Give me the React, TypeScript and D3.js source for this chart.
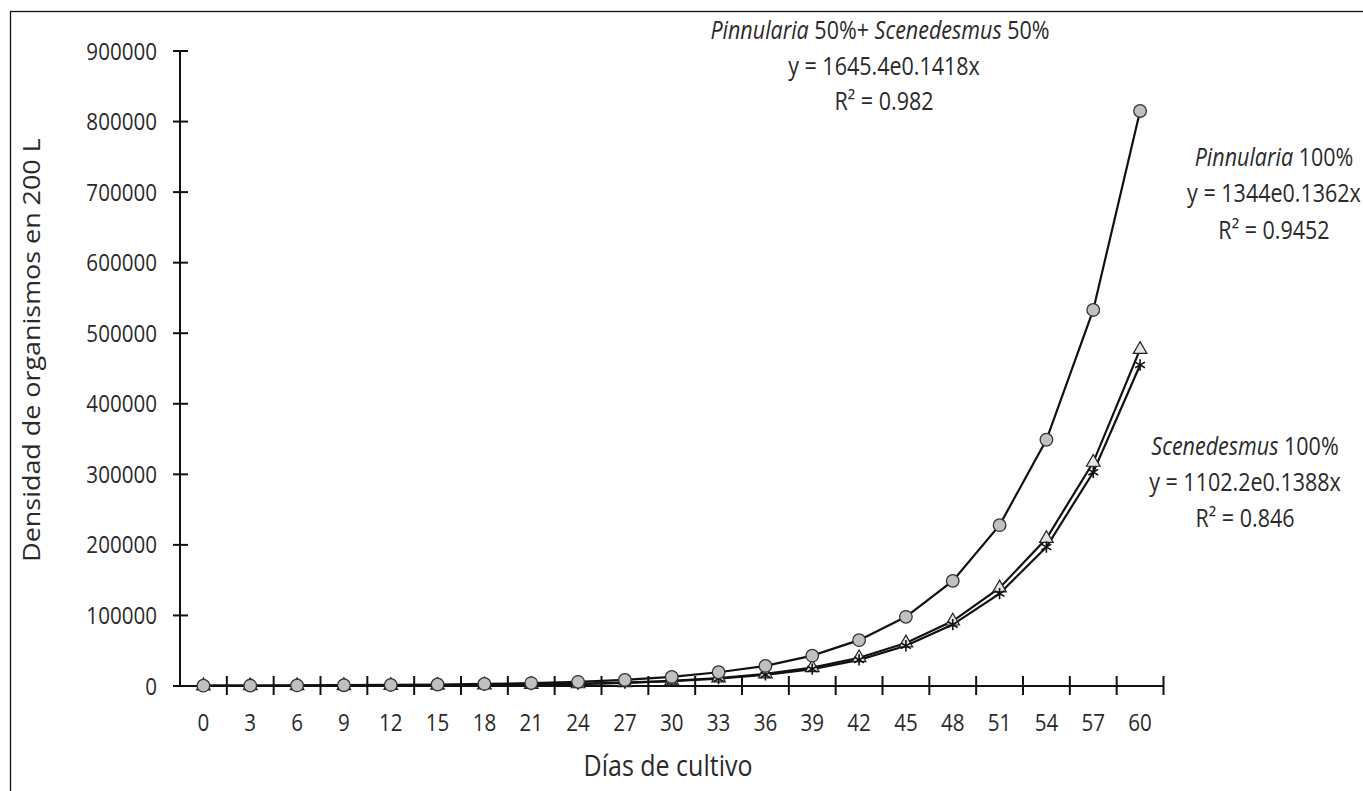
import React, { useEffect, useRef } from 'react';
import * as d3 from 'd3';

// Días de cultivo (eje x)
const days = [0, 3, 6, 9, 12, 15, 18, 21, 24, 27, 30, 33, 36, 39, 42, 45, 48, 51, 54, 57, 60];

// Pinnularia 50% + Scenedesmus 50% (círculos)
const mezcla = [500, 650, 850, 1100, 1500, 2100, 2900, 4100, 5900, 8600, 12800, 19500, 28500, 43000, 65000, 98000, 149000, 228000, 349000, 533000, 815000];
// Pinnularia 100% (triángulos)
const pinnularia = [200, 280, 380, 520, 720, 1000, 1450, 2100, 3100, 4700, 7300, 11300, 17200, 26000, 40000, 61000, 92000, 139000, 209000, 317000, 477000];
// Scenedesmus 100% (asteriscos)
const scenedesmus = [180, 250, 340, 470, 650, 900, 1300, 1900, 2800, 4300, 6700, 10400, 15800, 24000, 37000, 57000, 87000, 131000, 197000, 303000, 455000];

const yTicks = [0, 100000, 200000, 300000, 400000, 500000, 600000, 700000, 800000, 900000];

const W = 1363;
const H = 791;

const App = () => {
  const svgRef = useRef(null);

  useEffect(() => {
    if (!svgRef.current) return;
    const svg = d3.select(svgRef.current);
    svg.selectAll('*').remove();

    const font = '"Open Sans", sans-serif';
    const SY = 1.15; // el original está algo estirado en vertical

    const x = d3.scaleBand().domain(days.map(String)).range([180, 1163.5]);
    const y = d3.scaleLinear().domain([0, 900000]).range([686, 51]);
    const cx = (d) => x(String(d)) + x.bandwidth() / 2;

    svg.append('rect')
      .attr('width', W).attr('height', H).attr('fill', '#fff');

    // marco exterior (solo se ven los lados izquierdo y superior)
    svg.append('rect')
      .attr('x', 10.5).attr('y', 11.5)
      .attr('width', 1500).attr('height', 1000)
      .attr('fill', 'none').attr('stroke', '#111').attr('stroke-width', 1.3);

    const text = (px, py, anchor, size, parts, rotate = false) => {
      const t = svg.append('text')
        .attr('transform', rotate
          ? `translate(${px},${py}) rotate(-90) scale(${SY},1)`
          : `translate(${px},${py}) scale(1,${SY})`)
        .attr('text-anchor', anchor)
        .attr('font-family', font)
        .attr('font-size', size)
        .attr('fill', '#2a2a2a')
        .attr('dy', '0.36em');
      parts.forEach((p) => {
        t.append('tspan')
          .attr('font-style', p.i ? 'italic' : 'normal')
          .text(p.t);
      });
    };

    // ejes
    const axis = svg.append('g').attr('stroke', '#111').attr('stroke-width', 2);
    axis.append('line').attr('x1', 180).attr('x2', 180).attr('y1', y(900000)).attr('y2', y(0));
    axis.append('line').attr('x1', 180).attr('x2', x.range()[1]).attr('y1', y(0)).attr('y2', y(0));

    axis.selectAll('.yt')
      .data(yTicks)
      .join('line')
      .attr('class', 'yt')
      .attr('x1', 173).attr('x2', 188)
      .attr('y1', (d) => y(d)).attr('y2', (d) => y(d));

    const bounds = days.slice(1).map((d) => x(String(d))).concat([x.range()[1]]);
    axis.selectAll('.xt')
      .data(bounds)
      .join('line')
      .attr('class', 'xt')
      .attr('x1', (d) => d).attr('x2', (d) => d)
      .attr('y1', y(0) - 10).attr('y2', y(0) + 9);

    yTicks.forEach((v) => text(157, y(v), 'end', 20.6, [{ t: String(v) }]));
    days.forEach((d) => text(cx(d), 722, 'middle', 20.6, [{ t: String(d) }]));

    text(668, 766, 'middle', 25, [{ t: 'Días de cultivo' }]);
    text(32, 350, 'middle', 23.4, [{ t: 'Densidad de organismos en 200 L' }], true);

    // series
    const line = d3.line().x((d, i) => cx(days[i])).y((d) => y(d));
    [mezcla, pinnularia, scenedesmus].forEach((s) => {
      svg.append('path')
        .attr('d', line(s))
        .attr('fill', 'none')
        .attr('stroke', '#111')
        .attr('stroke-width', 2.2);
    });

    svg.selectAll('.tri')
      .data(pinnularia)
      .join('path')
      .attr('class', 'tri')
      .attr('transform', (d, i) => `translate(${cx(days[i])},${y(d)})`)
      .attr('d', d3.symbol(d3.symbolTriangle, 80)())
      .attr('fill', '#e4e4e4')
      .attr('stroke', '#222')
      .attr('stroke-width', 1.2);

    svg.selectAll('.star')
      .data(scenedesmus)
      .join('path')
      .attr('class', 'star')
      .attr('transform', (d, i) => `translate(${cx(days[i])},${y(d)})`)
      .attr('d', d3.symbol(d3.symbolAsterisk, 90)())
      .attr('fill', 'none')
      .attr('stroke', '#111')
      .attr('stroke-width', 1.6);

    svg.selectAll('.circ')
      .data(mezcla)
      .join('circle')
      .attr('class', 'circ')
      .attr('cx', (d, i) => cx(days[i]))
      .attr('cy', (d) => y(d))
      .attr('r', 6.3)
      .attr('fill', '#c0c0c0')
      .attr('stroke', '#333')
      .attr('stroke-width', 1.3);

    // ecuaciones de ajuste
    const ann = 21.5;
    text(880, 30, 'middle', ann, [{ t: 'Pinnularia', i: true }, { t: ' 50%+ ' }, { t: 'Scenedesmus', i: true }, { t: ' 50%' }]);
    text(884, 66, 'middle', ann, [{ t: 'y = 1645.4e0.1418x' }]);
    text(884, 101, 'middle', ann, [{ t: 'R² = 0.982' }]);

    text(1274, 157, 'middle', ann, [{ t: 'Pinnularia', i: true }, { t: ' 100%' }]);
    text(1274, 193, 'middle', ann, [{ t: 'y = 1344e0.1362x' }]);
    text(1274, 230, 'middle', ann, [{ t: 'R² = 0.9452' }]);

    text(1245, 446, 'middle', ann, [{ t: 'Scenedesmus', i: true }, { t: ' 100%' }]);
    text(1245, 482, 'middle', ann, [{ t: 'y = 1102.2e0.1388x' }]);
    text(1245, 518, 'middle', ann, [{ t: 'R² = 0.846' }]);
  }, []);

  return (
    <svg
      ref={svgRef}
      width={W}
      height={H}
      style={{ position: 'absolute', left: 0, top: 0, display: 'block' }}
    />
  );
};

export default App;
